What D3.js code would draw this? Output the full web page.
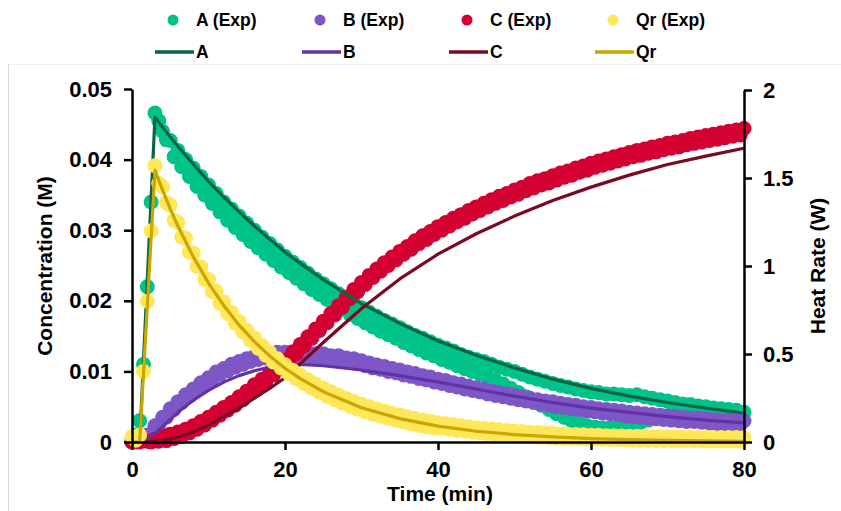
<!DOCTYPE html>
<html>
<head>
<meta charset="utf-8">
<script src="https://cdn.jsdelivr.net/npm/d3@7"></script>
<style>
  body { margin: 0; background: #fff; }
  svg { display: block; font-family: "Liberation Sans", Arial, sans-serif; font-weight: bold; }
</style>
</head>
<body>
<div id="chart"></div>
<script>
// Measured data, one reading every 0.5 min
var expTime = [0, 0.5, 1, 1.5, 2, 2.5, 3, 3.5, 4, 4.5, 5, 5.5, 6, 6.5, 7, 7.5, 8, 8.5, 9, 9.5,
  10, 10.5, 11, 11.5, 12, 12.5, 13, 13.5, 14, 14.5, 15, 15.5, 16, 16.5, 17, 17.5, 18, 18.5, 19, 19.5,
  20, 20.5, 21, 21.5, 22, 22.5, 23, 23.5, 24, 24.5, 25, 25.5, 26, 26.5, 27, 27.5, 28, 28.5, 29, 29.5,
  30, 30.5, 31, 31.5, 32, 32.5, 33, 33.5, 34, 34.5, 35, 35.5, 36, 36.5, 37, 37.5, 38, 38.5, 39, 39.5,
  40, 40.5, 41, 41.5, 42, 42.5, 43, 43.5, 44, 44.5, 45, 45.5, 46, 46.5, 47, 47.5, 48, 48.5, 49, 49.5,
  50, 50.5, 51, 51.5, 52, 52.5, 53, 53.5, 54, 54.5, 55, 55.5, 56, 56.5, 57, 57.5, 58, 58.5, 59, 59.5,
  60, 60.5, 61, 61.5, 62, 62.5, 63, 63.5, 64, 64.5, 65, 65.5, 66, 66.5, 67, 67.5, 68, 68.5, 69, 69.5,
  70, 70.5, 71, 71.5, 72, 72.5, 73, 73.5, 74, 74.5, 75, 75.5, 76, 76.5, 77, 77.5, 78, 78.5, 79, 79.5, 80];

var expA = [.0004, .0010, .0030, .0110, .0220, .0340, .0466, .0455,
  .0440, .0428, .0427, .0404, .0413, .0390, .0400, .0376,
  .0388, .0362, .0376, .0350, .0364, .0338, .0352, .0326,
  .0340, .0314, .0330, .0304, .0320, .0294, .0310, .0284,
  .0300, .0275, .0290, .0266, .0281, .0257, .0272, .0248,
  .0263, .0240, .0255, .0232, .0247, .0224, .0239, .0216,
  .0231, .0209, .0224, .0202, .0217, .0195, .0210, .0188,
  .0203, .0181, .0196, .0175, .0190, .0169, .0184, .0163,
  .0178, .0157, .0172, .0152, .0167, .0147, .0162, .0141,
  .0156, .0136, .0151, .0131, .0147, .0126, .0142, .0122,
  .0137, .0117, .0133, .0113, .0129, .0108, .0124, .0104,
  .0120, .0100, .0117, .0096, .0114, .0092, .0110, .0087,
  .0106, .0082, .0103, .0076, .0100, .0070, .0096, .0064,
  .0092, .0058, .0089, .0052, .0086, .0046, .0083, .0040,
  .0080, .0035, .0078, .0030, .0075, .0026, .0073, .0023,
  .0071, .0021, .0070, .0020, .0068, .0020, .0068, .0021,
  .0067, .0023, .0066, .0025, .0067, .0028, .0064, .0031,
  .0062, .0034, .0060, .0037, .0058, .0039, .0056, .0041,
  .0054, .0042, .0053, .0043, .0051, .0043, .0050, .0043,
  .0048, .0043, .0047, .0042, .0046, .0042, .0045, .0041,
  .0042];

var expB = [.0000, .0000, .0002, .0002, .0010, .0011, .0023, .0023,
  .0035, .0035, .0047, .0046, .0057, .0056, .0067, .0065,
  .0075, .0074, .0084, .0082, .0091, .0089, .0099, .0096,
  .0104, .0101, .0110, .0106, .0114, .0110, .0118, .0114,
  .0121, .0117, .0124, .0119, .0125, .0120, .0127, .0121,
  .0127, .0122, .0128, .0122, .0127, .0121, .0127, .0120,
  .0125, .0119, .0125, .0118, .0122, .0116, .0122, .0115,
  .0119, .0113, .0118, .0111, .0115, .0108, .0112, .0105,
  .0109, .0103, .0107, .0100, .0104, .0098, .0102, .0095,
  .0099, .0093, .0097, .0090, .0094, .0088, .0092, .0085,
  .0089, .0083, .0087, .0080, .0084, .0078, .0082, .0075,
  .0079, .0073, .0077, .0071, .0075, .0068, .0072, .0066,
  .0070, .0064, .0068, .0062, .0066, .0060, .0064, .0058,
  .0062, .0056, .0060, .0054, .0058, .0052, .0057, .0050,
  .0055, .0049, .0053, .0047, .0052, .0046, .0050, .0044,
  .0049, .0043, .0047, .0041, .0046, .0040, .0045, .0039,
  .0044, .0037, .0042, .0036, .0041, .0035, .0040, .0034,
  .0039, .0033, .0038, .0032, .0037, .0031, .0036, .0030,
  .0035, .0029, .0034, .0029, .0034, .0028, .0033, .0027,
  .0032, .0026, .0031, .0026, .0031, .0025, .0030, .0025,
  .0030];

var expC = [.0000, .0002, .0000, .0002, .0001, .0000, .0004, .0001,
  .0008, .0002, .0011, .0005, .0014, .0008, .0018, .0013,
  .0023, .0018, .0029, .0024, .0035, .0031, .0042, .0038,
  .0049, .0045, .0056, .0052, .0064, .0060, .0072, .0069,
  .0081, .0077, .0089, .0086, .0098, .0095, .0107, .0104,
  .0116, .0114, .0127, .0125, .0138, .0136, .0149, .0147,
  .0160, .0158, .0171, .0169, .0182, .0180, .0193, .0191,
  .0205, .0203, .0216, .0213, .0226, .0223, .0236, .0233,
  .0245, .0242, .0254, .0250, .0262, .0258, .0270, .0266,
  .0277, .0273, .0285, .0281, .0292, .0287, .0298, .0294,
  .0305, .0300, .0311, .0306, .0317, .0312, .0322, .0317,
  .0328, .0323, .0333, .0328, .0338, .0333, .0343, .0338,
  .0348, .0342, .0352, .0347, .0357, .0351, .0361, .0356,
  .0366, .0360, .0370, .0364, .0373, .0367, .0377, .0371,
  .0381, .0375, .0384, .0378, .0388, .0382, .0391, .0385,
  .0395, .0389, .0398, .0392, .0401, .0395, .0404, .0398,
  .0407, .0401, .0410, .0404, .0413, .0406, .0415, .0409,
  .0418, .0411, .0420, .0414, .0423, .0416, .0425, .0418,
  .0427, .0421, .0430, .0423, .0432, .0425, .0434, .0427,
  .0436, .0429, .0438, .0431, .0440, .0433, .0442, .0435,
  .0444];

// heat rate, W (right axis)
var expQr = [.03, .01, .04, .40, .80, 1.20, 1.57, 1.47,
  1.45, 1.36, 1.345, 1.26, 1.247, 1.165, 1.157, 1.079,
  1.073, 0.998, 0.995, 0.923, 0.923, 0.854, 0.856, 0.789,
  0.795, 0.730, 0.737, 0.675, 0.684, 0.624, 0.635, 0.577,
  0.590, 0.533, 0.548, 0.493, 0.509, 0.455, 0.473, 0.421,
  0.439, 0.388, 0.408, 0.359, 0.380, 0.331, 0.353, 0.305,
  0.329, 0.282, 0.306, 0.260, 0.285, 0.240, 0.265, 0.221,
  0.247, 0.203, 0.230, 0.187, 0.215, 0.172, 0.200, 0.158,
  0.187, 0.146, 0.175, 0.134, 0.163, 0.123, 0.153, 0.113,
  0.143, 0.103, 0.134, 0.094, 0.125, 0.086, 0.118, 0.079,
  0.110, 0.078, 0.104, 0.072, 0.098, 0.066, 0.092, 0.061,
  0.086, 0.056, 0.081, 0.052, 0.077, 0.048, 0.073, 0.044,
  0.069, 0.041, 0.065, 0.038, 0.062, 0.035, 0.059, 0.032,
  0.056, 0.030, 0.054, 0.028, 0.051, 0.026, 0.049, 0.024,
  0.046, 0.022, 0.044, 0.021, 0.042, 0.019, 0.041, 0.018,
  0.039, 0.017, 0.038, 0.016, 0.036, 0.015, 0.035, 0.014,
  0.034, 0.013, 0.033, 0.012, 0.032, 0.011, 0.031, 0.010,
  0.030, 0.010, 0.030, 0.009, 0.029, 0.009, 0.028, 0.008,
  0.028, 0.008, 0.027, 0.007, 0.027, 0.007, 0.026, 0.006,
  0.026, 0.006, 0.025, 0.006, 0.025, 0.005, 0.025, 0.005,
  0.024];

// Model curves
var modelTime = [0, 1, 2, 3, 4, 5, 6, 8, 10, 12, 14, 16, 18, 20, 22, 25, 30, 35, 40, 45, 50, 55, 60, 65, 70, 75, 80];
var modelA = [0, 0, 0.0230, 0.0460, 0.0446, 0.0432, 0.0419, 0.0394, 0.0369, 0.0347, 0.0326, 0.0306, 0.0287, 0.0269, 0.0253, 0.0230,
  0.0196, 0.0168, 0.0143, 0.0123, 0.0105, 0.0089, 0.0076, 0.0065, 0.0056, 0.0048, 0.0041];
var modelB = [0, 0, 0.0005, 0.0012, 0.0022, 0.0032, 0.0042, 0.0059, 0.0073, 0.0085, 0.0094, 0.0101, 0.0106, 0.0109, 0.0110, 0.0108,
  0.0102, 0.0094, 0.0085, 0.0075, 0.0065, 0.0056, 0.0048, 0.0042, 0.0036, 0.0031, 0.0027];
var modelC = [0, 0, 0, 0.0001, 0.0002, 0.0004, 0.0007, 0.0014, 0.0024, 0.0036, 0.0048, 0.0062, 0.0076, 0.0091, 0.0111, 0.0141,
  0.0189, 0.0231, 0.0266, 0.0295, 0.0320, 0.0342, 0.0361, 0.0378, 0.0393, 0.0405, 0.0416];
var modelQr = [0, 0, 0.77, 1.545, 1.431, 1.325, 1.227, 1.053, 0.903, 0.775, 0.664, 0.570, 0.489, 0.419, 0.360, 0.286,
  0.195, 0.133, 0.090, 0.061, 0.042, 0.029, 0.019, 0.013, 0.009, 0.006, 0.004];

var xTicks = [0, 20, 40, 60, 80],
    yLeftTicks = [0, 0.01, 0.02, 0.03, 0.04, 0.05],
    yRightTicks = [0, 0.5, 1, 1.5, 2];

var expLabels = ['A (Exp)', 'B (Exp)', 'C (Exp)', 'Qr (Exp)'],
    modelLabels = ['A', 'B', 'C', 'Qr'],
    expColors = ['#00C389', '#7E57C6', '#D30031', '#FFE75A'],
    modelColors = ['#0B6545', '#6231A8', '#7A0A22', '#C9A600'];

var width = 841, height = 511;

var svg = d3.select('#chart').append('svg')
    .attr('width', width)
    .attr('height', height);

// faint frame around the plot area
svg.append('line').attr('x1', 8).attr('x2', width).attr('y1', 64.5).attr('y2', 64.5)
    .attr('stroke', '#efefef').attr('stroke-width', 1);
svg.append('line').attr('x1', 8.5).attr('x2', 8.5).attr('y1', 64).attr('y2', height)
    .attr('stroke', '#d6d6d6').attr('stroke-width', 1);

var x = d3.scaleLinear().domain([0, 80]).range([132, 744]);
var yL = d3.scaleLinear().domain([0, 0.05]).range([442, 89]);
var yR = d3.scaleLinear().domain([0, 2]).range([442, 90]);

var rad = 7.5;

function drawDots(values, yScale, color) {
    svg.append('g').selectAll('circle').data(expTime).enter()
        .append('circle')
        .attr('cx', function(d) { return x(d); })
        .attr('cy', function(d, i) { return yScale(values[i]); })
        .attr('r', rad)
        .attr('fill', color);
}

function drawModel(values, yScale, color) {
    var line = d3.line()
        .x(function(d) { return x(d); })
        .y(function(d, i) { return yScale(values[i]); });
    svg.append('path').datum(modelTime)
        .attr('d', line)
        .attr('fill', 'none')
        .attr('stroke', color)
        .attr('stroke-width', 3.2)
        .attr('stroke-linejoin', 'round');
}

drawDots(expA, yL, expColors[0]);
drawDots(expB, yL, expColors[1]);
drawDots(expC, yL, expColors[2]);
drawModel(modelA, yL, modelColors[0]);
drawModel(modelB, yL, modelColors[1]);
drawModel(modelC, yL, modelColors[2]);
drawDots(expQr, yR, expColors[3]);
drawModel(modelQr, yR, modelColors[3]);

// Axes
function styleAxis(g) {
    g.selectAll('path').attr('stroke', '#000').attr('stroke-width', 2.5);
    g.selectAll('line').attr('stroke', '#000').attr('stroke-width', 2.5);
    g.selectAll('text').attr('fill', '#000').attr('font-size', 22)
        .attr('font-weight', 'bold').attr('font-family', '"Liberation Sans", Arial, sans-serif');
}

svg.append('g').attr('transform', 'translate(0,442)')
    .call(d3.axisBottom(x).tickValues(xTicks).tickSize(8).tickSizeOuter(0).tickPadding(11))
    .call(styleAxis);

svg.append('g').attr('transform', 'translate(132,0)')
    .call(d3.axisLeft(yL).tickValues(yLeftTicks).tickSize(8).tickSizeOuter(0).tickPadding(12)
        .tickFormat(function(d) { return d === 0 ? '0' : d.toFixed(2); }))
    .call(styleAxis);

svg.append('g').attr('transform', 'translate(744,0)')
    .call(d3.axisRight(yR).tickValues(yRightTicks).tickSize(8).tickSizeOuter(0).tickPadding(11)
        .tickFormat(function(d) { return String(d); }))
    .call(styleAxis);

// Axis titles
svg.append('text').attr('transform', 'translate(52,266) rotate(-90)')
    .attr('text-anchor', 'middle').attr('font-size', 21).text('Concentration (M)');
svg.append('text').attr('transform', 'translate(825,266) rotate(-90)')
    .attr('text-anchor', 'middle').attr('font-size', 21).text('Heat Rate (W)');
svg.append('text').attr('x', 440).attr('y', 501)
    .attr('text-anchor', 'middle').attr('font-size', 21).text('Time (min)');

// Legend
var legX = [173, 320, 467, 613];
var legend = svg.append('g').attr('font-size', 17.5);

legend.selectAll('circle').data(expLabels).enter().append('circle')
    .attr('cx', function(d, i) { return legX[i]; })
    .attr('cy', 20)
    .attr('r', 5.5)
    .attr('fill', function(d, i) { return expColors[i]; });
legend.selectAll('text.exp').data(expLabels).enter().append('text')
    .attr('class', 'exp')
    .attr('x', function(d, i) { return legX[i] + 23; })
    .attr('y', 26)
    .text(function(d) { return d; });

legend.selectAll('line').data(modelLabels).enter().append('line')
    .attr('x1', function(d, i) { return legX[i] - 18; })
    .attr('x2', function(d, i) { return legX[i] + 21; })
    .attr('y1', 52).attr('y2', 52)
    .attr('stroke', function(d, i) { return modelColors[i]; })
    .attr('stroke-width', 3.5);
legend.selectAll('text.mod').data(modelLabels).enter().append('text')
    .attr('class', 'mod')
    .attr('x', function(d, i) { return legX[i] + 23; })
    .attr('y', 58)
    .text(function(d) { return d; });
</script>
</body>
</html>
